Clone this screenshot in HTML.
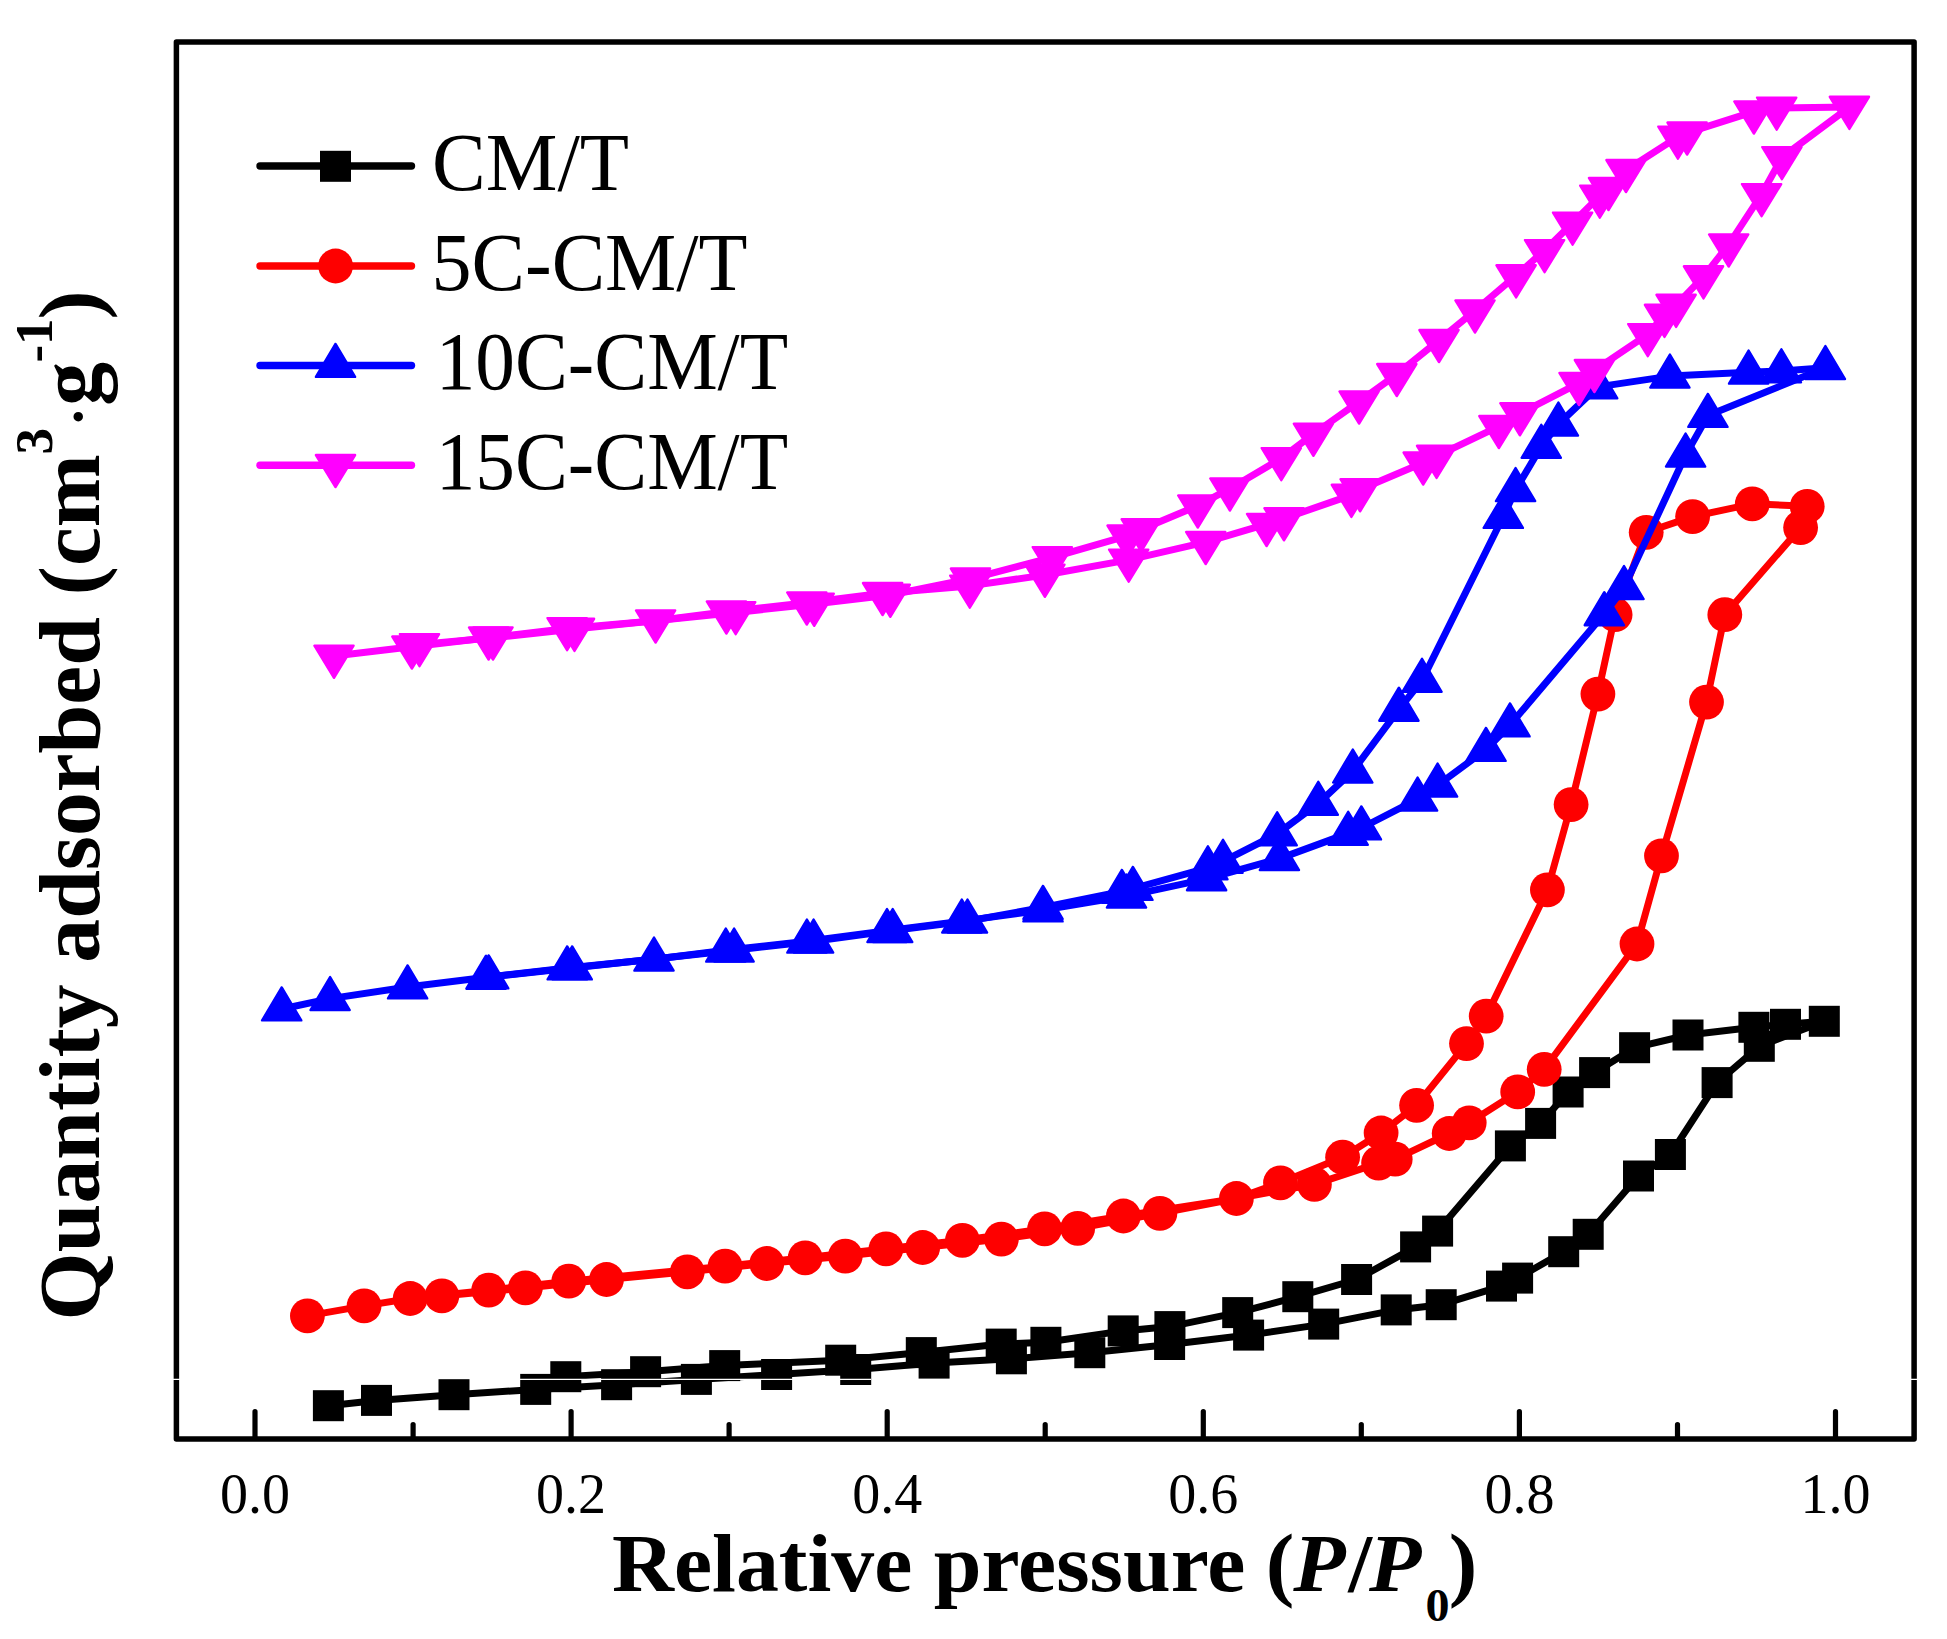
<!DOCTYPE html>
<html><head><meta charset="utf-8"><title>N2 adsorption isotherms</title>
<style>
html,body{margin:0;padding:0;background:#fff}
body{width:1947px;height:1639px;overflow:hidden}
svg{display:block}
text{font-family:"Liberation Serif","Times New Roman",serif;fill:#000}
.tl{font-size:56px}
.lg{font-size:82px}
.ax{font-size:82px;font-weight:bold}
.ay{font-size:87.6px;font-weight:bold}
</style></head><body>
<svg width="1947" height="1639" viewBox="0 0 1947 1639">
<rect width="1947" height="1639" fill="#fff"/>
<g fill="#000"><polyline fill="none" stroke="#000" stroke-width="7" stroke-linejoin="round" stroke-linecap="round" points="328.4,1405.7 376.5,1400.4 454.0,1394.7 535.7,1389.4 616.6,1384.7 696.4,1379.4 776.6,1374.5 855.7,1369.5 934.1,1363.1 1011.4,1358.8 1089.8,1352.7 1169.6,1344.5 1248.6,1335.1 1323.7,1324.1 1396.2,1309.9 1441.2,1304.7 1501.5,1286.1 1517.6,1278.1 1563.7,1251.7 1588.2,1234.3 1638.5,1176.0 1670.4,1154.5 1717.1,1082.6 1759.3,1046.3 1824.3,1021.3"/><polyline fill="none" stroke="#000" stroke-width="7" stroke-linejoin="round" stroke-linecap="round" points="1824.3,1021.3 1785.5,1024.3 1753.9,1027.3 1688.0,1035.0 1634.6,1047.7 1594.6,1072.6 1568.1,1092.0 1540.6,1123.4 1510.4,1145.9 1437.6,1231.1 1415.6,1246.9 1356.6,1279.5 1297.8,1296.7 1237.7,1312.6 1169.9,1326.6 1123.2,1330.9 1045.9,1342.3 1001.2,1344.1 921.3,1352.6 840.7,1360.2 724.7,1365.6 645.6,1371.7 565.8,1376.7 535.7,1389.4"/><rect x="312.9" y="1390.2" width="31" height="31"/><rect x="361.0" y="1384.9" width="31" height="31"/><rect x="438.5" y="1379.2" width="31" height="31"/><rect x="520.2" y="1373.9" width="31" height="31"/><rect x="601.1" y="1369.2" width="31" height="31"/><rect x="680.9" y="1363.9" width="31" height="31"/><rect x="761.1" y="1359.0" width="31" height="31"/><rect x="840.2" y="1354.0" width="31" height="31"/><rect x="918.6" y="1347.6" width="31" height="31"/><rect x="995.9" y="1343.3" width="31" height="31"/><rect x="1074.3" y="1337.2" width="31" height="31"/><rect x="1154.1" y="1329.0" width="31" height="31"/><rect x="1233.1" y="1319.6" width="31" height="31"/><rect x="1308.2" y="1308.6" width="31" height="31"/><rect x="1380.7" y="1294.4" width="31" height="31"/><rect x="1425.7" y="1289.2" width="31" height="31"/><rect x="1486.0" y="1270.6" width="31" height="31"/><rect x="1502.1" y="1262.6" width="31" height="31"/><rect x="1548.2" y="1236.2" width="31" height="31"/><rect x="1572.7" y="1218.8" width="31" height="31"/><rect x="1623.0" y="1160.5" width="31" height="31"/><rect x="1654.9" y="1139.0" width="31" height="31"/><rect x="1701.6" y="1067.1" width="31" height="31"/><rect x="1743.8" y="1030.8" width="31" height="31"/><rect x="1808.8" y="1005.8" width="31" height="31"/><rect x="1770.0" y="1008.8" width="31" height="31"/><rect x="1738.4" y="1011.8" width="31" height="31"/><rect x="1672.5" y="1019.5" width="31" height="31"/><rect x="1619.1" y="1032.2" width="31" height="31"/><rect x="1579.1" y="1057.1" width="31" height="31"/><rect x="1552.6" y="1076.5" width="31" height="31"/><rect x="1525.1" y="1107.9" width="31" height="31"/><rect x="1494.9" y="1130.4" width="31" height="31"/><rect x="1422.1" y="1215.6" width="31" height="31"/><rect x="1400.1" y="1231.4" width="31" height="31"/><rect x="1341.1" y="1264.0" width="31" height="31"/><rect x="1282.3" y="1281.2" width="31" height="31"/><rect x="1222.2" y="1297.1" width="31" height="31"/><rect x="1154.4" y="1311.1" width="31" height="31"/><rect x="1107.7" y="1315.4" width="31" height="31"/><rect x="1030.4" y="1326.8" width="31" height="31"/><rect x="985.7" y="1328.6" width="31" height="31"/><rect x="905.8" y="1337.1" width="31" height="31"/><rect x="825.2" y="1344.7" width="31" height="31"/><rect x="709.2" y="1350.1" width="31" height="31"/><rect x="630.1" y="1356.2" width="31" height="31"/><rect x="550.3" y="1361.2" width="31" height="31"/></g>
<g fill="#fe0000"><polyline fill="none" stroke="#fe0000" stroke-width="7" stroke-linejoin="round" stroke-linecap="round" points="307.4,1315.9 364.1,1305.9 410.2,1298.5 488.7,1290.2 568.8,1281.2 725.1,1266.2 805.2,1257.8 886.0,1248.8 962.4,1240.3 1044.6,1228.8 1123.4,1216.0 1236.4,1198.5 1280.5,1182.8 1342.6,1157.2 1381.1,1133.0 1416.6,1105.3 1466.5,1043.6 1486.2,1016.1 1547.4,889.9 1571.1,804.6 1597.9,694.1 1615.1,614.7 1646.2,532.3 1692.6,516.6 1752.3,503.8 1807.2,506.3"/><polyline fill="none" stroke="#fe0000" stroke-width="7" stroke-linejoin="round" stroke-linecap="round" points="410.2,1298.5 441.9,1295.9 525.4,1287.9 606.5,1279.5 687.3,1271.8 766.8,1263.5 845.3,1256.1 922.7,1247.5 1001.4,1239.1 1077.7,1228.3 1159.9,1213.4 1236.4,1198.5 1314.4,1184.4 1378.6,1163.1 1395.2,1159.2 1449.2,1133.5 1469.2,1122.8 1517.7,1091.9 1544.2,1069.3 1637.0,944.0 1661.5,855.8 1706.5,702.1 1724.8,614.7 1800.6,527.6 1807.2,506.3"/><circle cx="307.4" cy="1315.9" r="17.4"/><circle cx="364.1" cy="1305.9" r="17.4"/><circle cx="410.2" cy="1298.5" r="17.4"/><circle cx="488.7" cy="1290.2" r="17.4"/><circle cx="568.8" cy="1281.2" r="17.4"/><circle cx="725.1" cy="1266.2" r="17.4"/><circle cx="805.2" cy="1257.8" r="17.4"/><circle cx="886.0" cy="1248.8" r="17.4"/><circle cx="962.4" cy="1240.3" r="17.4"/><circle cx="1044.6" cy="1228.8" r="17.4"/><circle cx="1123.4" cy="1216.0" r="17.4"/><circle cx="1236.4" cy="1198.5" r="17.4"/><circle cx="1280.5" cy="1182.8" r="17.4"/><circle cx="1342.6" cy="1157.2" r="17.4"/><circle cx="1381.1" cy="1133.0" r="17.4"/><circle cx="1416.6" cy="1105.3" r="17.4"/><circle cx="1466.5" cy="1043.6" r="17.4"/><circle cx="1486.2" cy="1016.1" r="17.4"/><circle cx="1547.4" cy="889.9" r="17.4"/><circle cx="1571.1" cy="804.6" r="17.4"/><circle cx="1597.9" cy="694.1" r="17.4"/><circle cx="1615.1" cy="614.7" r="17.4"/><circle cx="1646.2" cy="532.3" r="17.4"/><circle cx="1692.6" cy="516.6" r="17.4"/><circle cx="1752.3" cy="503.8" r="17.4"/><circle cx="1807.2" cy="506.3" r="17.4"/><circle cx="441.9" cy="1295.9" r="17.4"/><circle cx="525.4" cy="1287.9" r="17.4"/><circle cx="606.5" cy="1279.5" r="17.4"/><circle cx="687.3" cy="1271.8" r="17.4"/><circle cx="766.8" cy="1263.5" r="17.4"/><circle cx="845.3" cy="1256.1" r="17.4"/><circle cx="922.7" cy="1247.5" r="17.4"/><circle cx="1001.4" cy="1239.1" r="17.4"/><circle cx="1077.7" cy="1228.3" r="17.4"/><circle cx="1159.9" cy="1213.4" r="17.4"/><circle cx="1314.4" cy="1184.4" r="17.4"/><circle cx="1378.6" cy="1163.1" r="17.4"/><circle cx="1395.2" cy="1159.2" r="17.4"/><circle cx="1449.2" cy="1133.5" r="17.4"/><circle cx="1469.2" cy="1122.8" r="17.4"/><circle cx="1517.7" cy="1091.9" r="17.4"/><circle cx="1544.2" cy="1069.3" r="17.4"/><circle cx="1637.0" cy="944.0" r="17.4"/><circle cx="1661.5" cy="855.8" r="17.4"/><circle cx="1706.5" cy="702.1" r="17.4"/><circle cx="1724.8" cy="614.7" r="17.4"/><circle cx="1800.6" cy="527.6" r="17.4"/></g>
<g fill="#0000ff" stroke-linejoin="round"><polyline fill="none" stroke="#0000ff" stroke-width="7" stroke-linejoin="round" stroke-linecap="round" points="281.7,1009.0 330.1,998.6 407.6,987.0 488.7,977.0 567.2,968.0 654.0,959.2 725.8,950.2 806.9,941.2 887.0,930.6 961.8,921.1 1043.0,910.0 1126.5,896.1 1206.6,878.8 1279.4,858.6 1348.2,833.4 1361.4,828.0 1417.6,799.2 1437.6,785.2 1486.0,749.5 1510.0,725.0 1604.3,613.8 1624.0,587.6 1685.6,455.1 1707.9,415.5 1825.4,367.7"/><polyline fill="none" stroke="#0000ff" stroke-width="7" stroke-linejoin="round" stroke-linecap="round" points="1825.4,367.7 1781.4,370.9 1748.6,372.2 1669.9,376.1 1597.7,386.9 1558.4,424.1 1541.3,446.4 1515.6,489.7 1503.3,516.5 1422.0,680.4 1398.9,709.3 1352.8,771.1 1318.3,803.4 1277.2,833.9 1223.0,861.4 1207.9,867.9 1132.9,888.5 1121.9,891.5 1043.0,907.5 967.5,921.1 892.7,930.6 813.6,941.2 734.1,950.2 572.2,968.0 486.0,977.3"/><g stroke="#0000ff" stroke-width="2.4"><polygon points="281.7,987.4 262.1,1020.4 301.3,1020.4"/><polygon points="330.1,977.0 310.5,1010.0 349.7,1010.0"/><polygon points="407.6,965.4 388.0,998.4 427.2,998.4"/><polygon points="488.7,955.4 469.1,988.4 508.3,988.4"/><polygon points="567.2,946.4 547.6,979.4 586.8,979.4"/><polygon points="654.0,937.6 634.4,970.6 673.6,970.6"/><polygon points="725.8,928.6 706.2,961.6 745.4,961.6"/><polygon points="806.9,919.6 787.3,952.6 826.5,952.6"/><polygon points="887.0,909.0 867.4,942.0 906.6,942.0"/><polygon points="961.8,899.5 942.2,932.5 981.4,932.5"/><polygon points="1043.0,888.4 1023.4,921.4 1062.6,921.4"/><polygon points="1126.5,874.5 1106.9,907.5 1146.1,907.5"/><polygon points="1206.6,857.2 1187.0,890.2 1226.2,890.2"/><polygon points="1279.4,837.0 1259.8,870.0 1299.0,870.0"/><polygon points="1348.2,811.8 1328.6,844.8 1367.8,844.8"/><polygon points="1361.4,806.4 1341.8,839.4 1381.0,839.4"/><polygon points="1417.6,777.6 1398.0,810.6 1437.2,810.6"/><polygon points="1437.6,763.6 1418.0,796.6 1457.2,796.6"/><polygon points="1486.0,727.9 1466.4,760.9 1505.6,760.9"/><polygon points="1510.0,703.4 1490.4,736.4 1529.6,736.4"/><polygon points="1604.3,592.2 1584.7,625.2 1623.9,625.2"/><polygon points="1624.0,566.0 1604.4,599.0 1643.6,599.0"/><polygon points="1685.6,433.5 1666.0,466.5 1705.2,466.5"/><polygon points="1707.9,393.9 1688.3,426.9 1727.5,426.9"/><polygon points="1825.4,346.1 1805.8,379.1 1845.0,379.1"/><polygon points="1781.4,349.3 1761.8,382.3 1801.0,382.3"/><polygon points="1748.6,350.6 1729.0,383.6 1768.2,383.6"/><polygon points="1669.9,354.5 1650.3,387.5 1689.5,387.5"/><polygon points="1597.7,365.3 1578.1,398.3 1617.3,398.3"/><polygon points="1558.4,402.5 1538.8,435.5 1578.0,435.5"/><polygon points="1541.3,424.8 1521.7,457.8 1560.9,457.8"/><polygon points="1515.6,468.1 1496.0,501.1 1535.2,501.1"/><polygon points="1503.3,494.9 1483.7,527.9 1522.9,527.9"/><polygon points="1422.0,658.8 1402.4,691.8 1441.6,691.8"/><polygon points="1398.9,687.7 1379.3,720.7 1418.5,720.7"/><polygon points="1352.8,749.5 1333.2,782.5 1372.4,782.5"/><polygon points="1318.3,781.8 1298.7,814.8 1337.9,814.8"/><polygon points="1277.2,812.3 1257.6,845.3 1296.8,845.3"/><polygon points="1223.0,839.8 1203.4,872.8 1242.6,872.8"/><polygon points="1207.9,846.3 1188.3,879.3 1227.5,879.3"/><polygon points="1132.9,866.9 1113.3,899.9 1152.5,899.9"/><polygon points="1121.9,869.9 1102.3,902.9 1141.5,902.9"/><polygon points="1043.0,885.9 1023.4,918.9 1062.6,918.9"/><polygon points="967.5,899.5 947.9,932.5 987.1,932.5"/><polygon points="892.7,909.0 873.1,942.0 912.3,942.0"/><polygon points="813.6,919.6 794.0,952.6 833.2,952.6"/><polygon points="734.1,928.6 714.5,961.6 753.7,961.6"/><polygon points="572.2,946.4 552.6,979.4 591.8,979.4"/><polygon points="486.0,955.7 466.4,988.7 505.6,988.7"/></g></g>
<g fill="#ff00ff" stroke-linejoin="round"><polyline fill="none" stroke="#ff00ff" stroke-width="7" stroke-linejoin="round" stroke-linecap="round" points="334.0,656.0 411.9,646.8 488.6,637.7 567.1,628.4 655.6,620.7 726.4,611.7 806.8,602.7 882.6,593.3 969.8,585.9 1044.9,575.0 1128.7,559.9 1205.7,542.2 1266.6,524.2 1284.0,518.5 1351.4,495.1 1360.1,489.5 1423.2,462.8 1436.6,456.1 1498.9,426.3 1519.9,413.5 1579.0,383.2 1594.4,370.3 1647.8,334.4 1664.5,315.1 1676.1,305.1 1703.5,276.6 1728.7,244.7 1761.6,194.4 1781.9,157.4 1849.4,107.1"/><polyline fill="none" stroke="#ff00ff" stroke-width="7" stroke-linejoin="round" stroke-linecap="round" points="1849.4,107.1 1776.7,107.9 1753.9,111.7 1687.1,132.8 1677.9,136.9 1626.0,170.3 1608.5,188.2 1599.8,195.9 1572.6,222.9 1544.6,250.4 1516.1,275.6 1475.0,310.7 1439.0,340.3 1396.8,374.3 1359.1,401.7 1313.4,434.0 1281.3,458.4 1229.9,488.7 1197.8,505.7 1141.2,529.5 1127.1,535.8 1052.3,557.4 970.5,578.8 890.3,595.0 814.2,604.0 735.7,612.4 574.5,629.1 493.0,637.7 419.5,644.4"/><g stroke="#ff00ff" stroke-width="2.4"><polygon points="334.0,677.8 314.4,645.7 353.6,645.7"/><polygon points="411.9,668.6 392.3,636.5 431.5,636.5"/><polygon points="488.6,659.5 469.0,627.4 508.2,627.4"/><polygon points="567.1,650.2 547.5,618.1 586.7,618.1"/><polygon points="655.6,642.5 636.0,610.4 675.2,610.4"/><polygon points="726.4,633.5 706.8,601.4 746.0,601.4"/><polygon points="806.8,624.5 787.2,592.4 826.4,592.4"/><polygon points="882.6,615.1 863.0,583.0 902.2,583.0"/><polygon points="969.8,607.7 950.2,575.6 989.4,575.6"/><polygon points="1044.9,596.8 1025.3,564.7 1064.5,564.7"/><polygon points="1128.7,581.7 1109.1,549.6 1148.3,549.6"/><polygon points="1205.7,564.0 1186.1,531.9 1225.3,531.9"/><polygon points="1266.6,546.0 1247.0,513.9 1286.2,513.9"/><polygon points="1284.0,540.3 1264.4,508.2 1303.6,508.2"/><polygon points="1351.4,516.9 1331.8,484.8 1371.0,484.8"/><polygon points="1360.1,511.3 1340.5,479.2 1379.7,479.2"/><polygon points="1423.2,484.6 1403.6,452.5 1442.8,452.5"/><polygon points="1436.6,477.9 1417.0,445.8 1456.2,445.8"/><polygon points="1498.9,448.1 1479.3,416.0 1518.5,416.0"/><polygon points="1519.9,435.3 1500.3,403.2 1539.5,403.2"/><polygon points="1579.0,405.0 1559.4,372.9 1598.6,372.9"/><polygon points="1594.4,392.1 1574.8,360.0 1614.0,360.0"/><polygon points="1647.8,356.2 1628.2,324.1 1667.4,324.1"/><polygon points="1664.5,336.9 1644.9,304.8 1684.1,304.8"/><polygon points="1676.1,326.9 1656.5,294.8 1695.7,294.8"/><polygon points="1703.5,298.4 1683.9,266.3 1723.1,266.3"/><polygon points="1728.7,266.5 1709.1,234.4 1748.3,234.4"/><polygon points="1761.6,216.2 1742.0,184.1 1781.2,184.1"/><polygon points="1781.9,179.2 1762.3,147.1 1801.5,147.1"/><polygon points="1849.4,128.9 1829.8,96.8 1869.0,96.8"/><polygon points="1776.7,129.7 1757.1,97.6 1796.3,97.6"/><polygon points="1753.9,133.5 1734.3,101.4 1773.5,101.4"/><polygon points="1687.1,154.6 1667.5,122.5 1706.7,122.5"/><polygon points="1677.9,158.7 1658.3,126.6 1697.5,126.6"/><polygon points="1626.0,192.1 1606.4,160.0 1645.6,160.0"/><polygon points="1608.5,210.0 1588.9,177.9 1628.1,177.9"/><polygon points="1599.8,217.7 1580.2,185.6 1619.4,185.6"/><polygon points="1572.6,244.7 1553.0,212.6 1592.2,212.6"/><polygon points="1544.6,272.2 1525.0,240.1 1564.2,240.1"/><polygon points="1516.1,297.4 1496.5,265.3 1535.7,265.3"/><polygon points="1475.0,332.5 1455.4,300.4 1494.6,300.4"/><polygon points="1439.0,362.1 1419.4,330.0 1458.6,330.0"/><polygon points="1396.8,396.1 1377.2,364.0 1416.4,364.0"/><polygon points="1359.1,423.5 1339.5,391.4 1378.7,391.4"/><polygon points="1313.4,455.8 1293.8,423.7 1333.0,423.7"/><polygon points="1281.3,480.2 1261.7,448.1 1300.9,448.1"/><polygon points="1229.9,510.5 1210.3,478.4 1249.5,478.4"/><polygon points="1197.8,527.5 1178.2,495.4 1217.4,495.4"/><polygon points="1141.2,551.3 1121.6,519.2 1160.8,519.2"/><polygon points="1127.1,557.6 1107.5,525.5 1146.7,525.5"/><polygon points="1052.3,579.2 1032.7,547.1 1071.9,547.1"/><polygon points="970.5,600.6 950.9,568.5 990.1,568.5"/><polygon points="890.3,616.8 870.7,584.7 909.9,584.7"/><polygon points="814.2,625.8 794.6,593.7 833.8,593.7"/><polygon points="735.7,634.2 716.1,602.1 755.3,602.1"/><polygon points="574.5,650.9 554.9,618.8 594.1,618.8"/><polygon points="493.0,659.5 473.4,627.4 512.6,627.4"/><polygon points="419.5,666.2 399.9,634.1 439.1,634.1"/></g></g>
<g stroke="#000" stroke-width="5.2" stroke-linecap="round"><line x1="255.0" y1="1438" x2="255.0" y2="1411.7"/><line x1="413.1" y1="1438" x2="413.1" y2="1424.7"/><line x1="571.1" y1="1438" x2="571.1" y2="1411.7"/><line x1="729.1" y1="1438" x2="729.1" y2="1424.7"/><line x1="887.2" y1="1438" x2="887.2" y2="1411.7"/><line x1="1045.2" y1="1438" x2="1045.2" y2="1424.7"/><line x1="1203.3" y1="1438" x2="1203.3" y2="1411.7"/><line x1="1361.3" y1="1438" x2="1361.3" y2="1424.7"/><line x1="1519.4" y1="1438" x2="1519.4" y2="1411.7"/><line x1="1677.5" y1="1438" x2="1677.5" y2="1424.7"/><line x1="1835.5" y1="1438" x2="1835.5" y2="1411.7"/></g>
<rect x="176.4" y="42.1" width="1737.7" height="1397" fill="none" stroke="#000" stroke-width="5.5" stroke-linejoin="round"/>
<g class="tl"><text x="255.0" y="1512.5" text-anchor="middle">0.0</text><text x="571.1" y="1512.5" text-anchor="middle">0.2</text><text x="887.2" y="1512.5" text-anchor="middle">0.4</text><text x="1203.3" y="1512.5" text-anchor="middle">0.6</text><text x="1519.4" y="1512.5" text-anchor="middle">0.8</text><text x="1835.5" y="1512.5" text-anchor="middle">1.0</text></g>
<line x1="260" y1="166.0" x2="411.5" y2="166.0" stroke="#000" stroke-width="7.4" stroke-linecap="round"/><g fill="#000"><rect x="320.0" y="150.8" width="31" height="31"/></g><line x1="260" y1="266.0" x2="411.5" y2="266.0" stroke="#fe0000" stroke-width="7.4" stroke-linecap="round"/><g fill="#fe0000"><circle cx="335.6" cy="266.0" r="17.4"/></g><line x1="260" y1="365.5" x2="411.5" y2="365.5" stroke="#0000ff" stroke-width="7.4" stroke-linecap="round"/><g fill="#0000ff" stroke="#0000ff" stroke-width="2.4" stroke-linejoin="round"><polygon points="335.5,343.9 315.9,376.9 355.1,376.9"/></g><line x1="260" y1="465.3" x2="411.5" y2="465.3" stroke="#ff00ff" stroke-width="7.4" stroke-linecap="round"/><g fill="#ff00ff" stroke="#ff00ff" stroke-width="2.4" stroke-linejoin="round"><polygon points="335.5,487.1 315.9,455.0 355.1,455.0"/></g>
<g class="lg"><text transform="translate(432,189.6) scale(0.983,1)">CM/T</text><text transform="translate(431.5,289.9) scale(0.977,1)">5C-CM/T</text><text transform="translate(435.7,388.9) scale(0.967,1)">10C-CM/T</text><text transform="translate(435.7,488.7) scale(0.967,1)">15C-CM/T</text></g>
<text class="ax" transform="translate(612,1590.8) scale(1.047,1)"><tspan x="0">Relative pressure</tspan><tspan x="624.5">(</tspan><tspan x="650.7" font-style="italic">P</tspan><tspan x="703.2">/</tspan><tspan x="723" font-style="italic">P</tspan><tspan x="776.9" font-size="46" dy="30.3">0</tspan><tspan x="799.2" dy="-30.3">)</tspan></text>
<text class="ay" transform="translate(99.3,1320.4) rotate(-90)"><tspan x="0">Quantity adsorbed (cm</tspan><tspan x="866" font-size="53" dy="-47">3</tspan><tspan x="890.5" dy="53" font-weight="normal" font-size="80">·</tspan><tspan x="914.6" dy="-6">g</tspan><tspan x="957.8" font-size="53" dy="-47">-1</tspan><tspan x="1001" dy="47">)</tspan></text>
<path d="M520 1379.3H871M173 1379.3H180M1910 1379.3H1918" stroke="#fff" stroke-width="1.2"/>
</svg>
</body></html>
